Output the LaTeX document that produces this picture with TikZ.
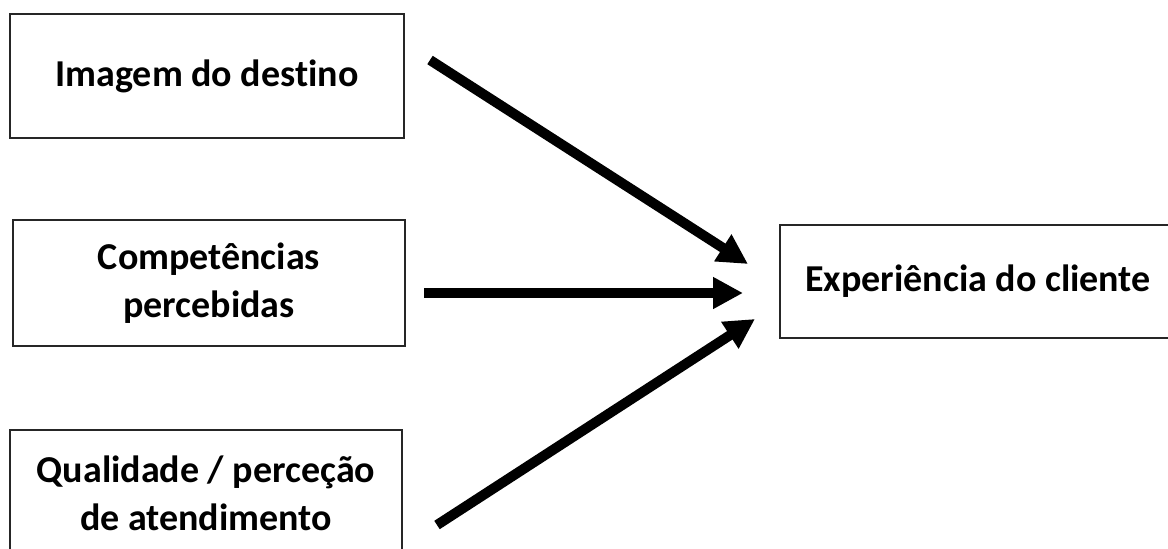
\documentclass[tikz,border=0pt]{standalone}
\usepackage{fontspec}
\setmainfont{Carlito}[Ligatures=CommonOff]
\usetikzlibrary{arrows.meta}
\begin{document}
\begin{tikzpicture}[x=1pt,y=-1pt,
  box/.style={draw=black!85, line width=2pt, fill=white, inner sep=0pt,
    font=\fontsize{38}{48}\selectfont\bfseries, align=center, text=black},
  arr/.style={line width=10pt, -{Triangle[length=30pt,width=30pt]}}]
\useasboundingbox (0,0) rectangle (1168,549);
\clip (0,0) rectangle (1168,549);
\node[box, minimum width=394pt, minimum height=124pt] (b1) at (207,76) {Imagem do destino};
\node[box, minimum width=392pt, minimum height=126pt] (b2) at (209,283) {Competências\\percebidas};
\node[box, minimum width=392pt, minimum height=126pt] (b3) at (206,493) {Qualidade / perceção\\de atendimento};
\node[box, minimum width=396pt, minimum height=113pt] (b4) at (978,281.5) {Experiência do cliente};
\coordinate (s1) at (430,60);
\coordinate (e1) at (748,264);
\coordinate (s2) at (424,293);
\coordinate (e2) at (743,293);
\coordinate (s3) at (437,525);
\coordinate (e3) at (755,319);
\draw[arr] (s1) -- (e1);
\draw[arr] (s2) -- (e2);
\draw[arr] (s3) -- (e3);
\end{tikzpicture}
\end{document}
